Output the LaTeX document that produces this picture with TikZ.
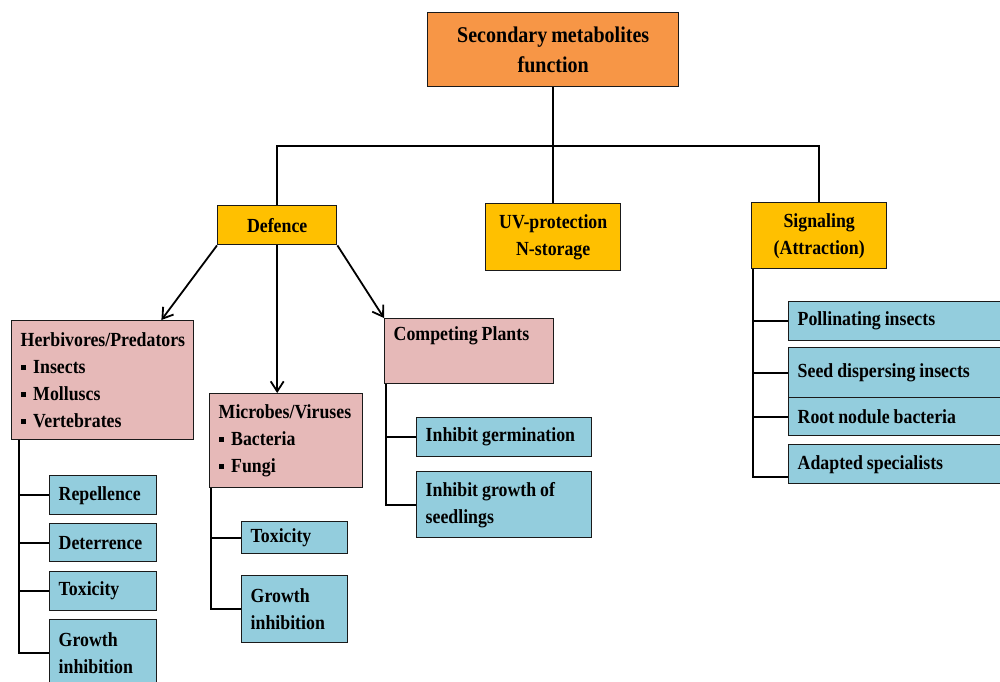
\documentclass[tikz,border=0pt]{standalone}
\usepackage{fontspec}
\setmainfont{Liberation Serif}[FakeStretch=0.89]
\usetikzlibrary{arrows.meta}
\definecolor{titleorange}{HTML}{F79646}
\definecolor{gold}{HTML}{FFC000}
\definecolor{rose}{HTML}{E6B9B8}
\definecolor{aqua}{HTML}{93CDDD}
\definecolor{edge}{HTML}{1A1A1A}
\newcommand{\sq}{\rule[3pt]{5.5pt}{5.5pt}\hspace{7pt}}
\tikzset{
  box/.style={draw=edge, line width=1.4pt, anchor=north west, inner xsep=9pt, inner ysep=2pt,
    font=\bfseries\fontsize{20}{27}\selectfont,
    execute at begin node={\hyphenpenalty=10000\spaceskip=4pt plus 1pt minus 1pt\relax}},
  headbox/.style={box, fill=gold, align=center},
  groupbox/.style={box, fill=rose, align=left},
  leafbox/.style={box, fill=aqua, align=left},
  arr/.style={-{Straight Barb[length=10pt,width=13pt]}, line width=1.8pt},
  link/.style={line width=1.8pt}
}
\begin{document}
\begin{tikzpicture}[x=1pt,y=-1pt]
  \clip (0,0) rectangle (1000,681);
  \fill[white] (0,0) rectangle (1000,681);
  \node[box, fill=titleorange, align=center, minimum width=251pt, minimum height=74pt,
    font=\bfseries\fontsize{22.5}{30}\selectfont] (title) at (427,12) {Secondary metabolites\\function};
  \node[headbox, minimum width=119pt, minimum height=39pt] (def) at (217,205) {Defence};
  \node[headbox, minimum width=135pt, minimum height=67pt] (uv) at (485,203) {UV-protection\\N-storage};
  \node[headbox, minimum width=135pt, minimum height=66pt] (sig) at (751,202) {Signaling\\(Attraction)};
  \node[groupbox, text width=164pt, minimum height=119pt] (herb) at (11,320)
    {Herbivores/Predators\\\sq Insects\\\sq Molluscs\\\sq Vertebrates};
  \node[groupbox, text width=135pt, minimum height=94pt] (mic) at (209,393)
    {Microbes/Viruses\\\sq Bacteria\\\sq Fungi};
  \node[groupbox, text width=151pt, minimum height=65pt] (comp) at (384,318) {Competing Plants\\\strut};
  \node[leafbox, text width=89pt, minimum height=39pt] (rep) at (49,475) {Repellence};
  \node[leafbox, text width=89pt, minimum height=38pt] (det) at (49,523) {Deterrence};
  \node[leafbox, text width=89pt, minimum height=39pt] (tox1) at (49,571) {Toxicity};
  \node[leafbox, text width=89pt, minimum height=67pt] (gi1) at (49,619) {Growth\\inhibition};
  \node[leafbox, text width=88pt, minimum height=32pt] (tox2) at (241,521) {Toxicity};
  \node[leafbox, text width=88pt, minimum height=67pt] (gi2) at (241,575) {Growth\\inhibition};
  \node[leafbox, text width=157pt, minimum height=39pt] (germ) at (416,417) {Inhibit germination};
  \node[leafbox, text width=157pt, minimum height=66pt] (seed) at (416,471) {Inhibit growth of\\seedlings};
  \node[leafbox, text width=212pt, minimum height=39pt] (pol) at (788,301) {Pollinating insects};
  \node[leafbox, text width=212pt, minimum height=50pt] (dis) at (788,347) {Seed dispersing insects};
  \node[leafbox, text width=212pt, minimum height=38pt] (root) at (788,397) {Root nodule bacteria};
  \node[leafbox, text width=212pt, minimum height=39pt] (adp) at (788,444) {Adapted specialists};
  \coordinate (bus) at (553,146);
  \begin{scope}[link]
    \draw (title.south) -- (uv.north);
    \draw (def.north) |- (bus) -| (sig.north);
    \foreach \leaf in {rep,det,tox1,gi1}
      \draw ([xshift=8pt]herb.south west) |- (\leaf.west);
    \foreach \leaf in {tox2,gi2}
      \draw ([xshift=2pt]mic.south west) |- (\leaf.west);
    \foreach \leaf in {germ,seed}
      \draw ([xshift=2pt]comp.south west) |- (\leaf.west);
    \foreach \leaf in {pol,dis,root}
      \draw ([xshift=2pt]sig.south west) |- (\leaf.west);
    \draw ([xshift=2pt]sig.south west) |- ([yshift=-13pt]adp.west);
  \end{scope}
  \begin{scope}[arr]
    \draw (def.south west) -- ([xshift=-33pt]herb.north east);
    \draw (def.south) -- (def.south |- mic.north);
    \draw (def.south east) -- (comp.north west);
  \end{scope}
\end{tikzpicture}
\end{document}
